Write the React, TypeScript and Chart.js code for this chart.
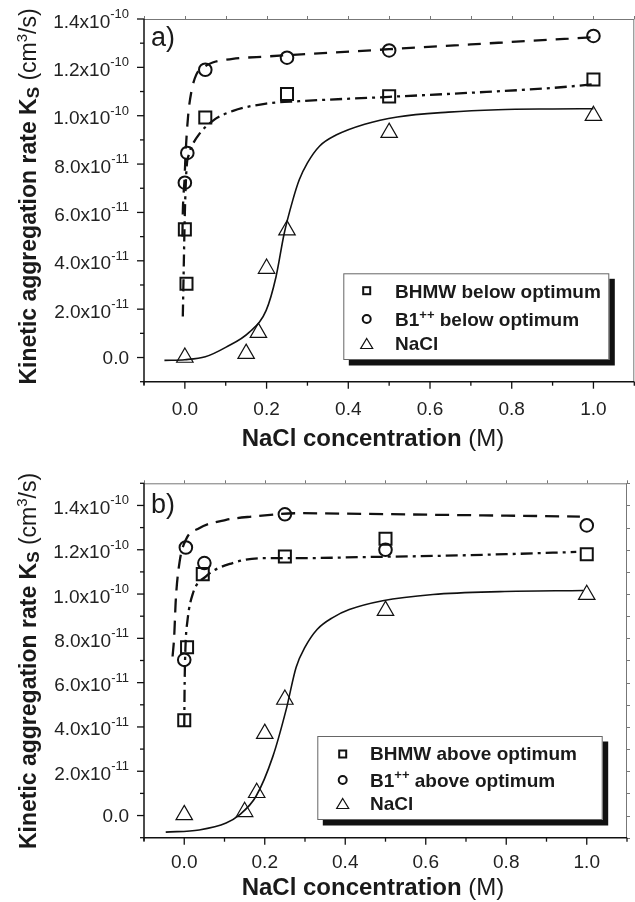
import React, { useEffect, useRef } from 'react';
import { Chart, registerables } from 'chart.js';
Chart.register(...registerables);

const FONT = '"Liberation Sans", Arial, Helvetica, sans-serif';

// ---------- axes ----------
const X_MIN = -0.1;
const X_MAX = 1.1;
const X_MAJOR = [0, 0.2, 0.4, 0.6, 0.8, 1.0];
const X_LABELS = ['0.0', '0.2', '0.4', '0.6', '0.8', '1.0'];
const X_MINOR = [-0.1, 0.1, 0.3, 0.5, 0.7, 0.9, 1.1];
const X_TOP = [-0.1, 0, 0.1, 0.2, 0.3, 0.4, 0.5, 0.6, 0.7, 0.8, 0.9, 1.0, 1.1];

const A_Y_MIN = -1e-11;
const A_Y_MAX = 1.4e-10;
const A_Y_MAJOR = [0, 2e-11, 4e-11, 6e-11, 8e-11, 1e-10, 1.2e-10, 1.4e-10];
const A_Y_LABELS = ['0.0', '2.0x10^{-11}', '4.0x10^{-11}', '6.0x10^{-11}', '8.0x10^{-11}', '1.0x10^{-10}', '1.2x10^{-10}', '1.4x10^{-10}'];
const A_Y_MINOR = [-1e-11, 1e-11, 3e-11, 5e-11, 7e-11, 9e-11, 1.1e-10, 1.3e-10];

const B_Y_MIN = -1e-11;
const B_Y_MAX = 1.5e-10;
const B_Y_MAJOR = [0, 2e-11, 4e-11, 6e-11, 8e-11, 1e-10, 1.2e-10, 1.4e-10];
const B_Y_LABELS = ['0.0', '2.0x10^{-11}', '4.0x10^{-11}', '6.0x10^{-11}', '8.0x10^{-11}', '1.0x10^{-10}', '1.2x10^{-10}', '1.4x10^{-10}'];
const B_Y_MINOR = [-1e-11, 1e-11, 3e-11, 5e-11, 7e-11, 9e-11, 1.1e-10, 1.3e-10, 1.5e-10];
const B_Y_RIGHT = [-1e-11, 0, 1e-11, 2e-11, 3e-11, 4e-11, 5e-11, 6e-11, 7e-11, 8e-11, 9e-11, 1e-10, 1.1e-10, 1.2e-10, 1.3e-10, 1.4e-10, 1.5e-10];

const X_TITLE = 'NaCl concentration';
const X_UNIT = ' (M)';
const Y_TITLE = 'Kinetic aggregation rate K';

// ---------- panel a (below optimum) ----------
const A_NAMES = ['BHMW below optimum', 'B1^{++} below optimum', 'NaCl'];
const A_BHMW_X = [0.004, 0.0, 0.05, 0.25, 0.5, 1.0];
const A_BHMW_Y = [3.05e-11, 5.3e-11, 9.93e-11, 1.09e-10, 1.08e-10, 1.15e-10];
const A_B1_X = [0.0, 0.006, 0.05, 0.25, 0.5, 1.0];
const A_B1_Y = [7.23e-11, 8.46e-11, 1.19e-10, 1.24e-10, 1.27e-10, 1.33e-10];
const A_NACL_X = [0.0, 0.15, 0.18, 0.2, 0.25, 0.5, 1.0];
const A_NACL_Y = [0.0, 0.16e-11, 1.03e-11, 3.68e-11, 5.27e-11, 9.3e-11, 1.0e-10];

const A_FIT_B1_X = [-0.006, -0.005, -0.003, -0.001, 0.002, 0.008, 0.016, 0.028, 0.05, 0.068, 0.117, 0.2, 0.3, 0.5, 0.7, 0.9, 1.0];
const A_FIT_B1_Y = [5.0e-11, 6.0e-11, 6.8e-11, 7.3e-11, 8.5e-11, 1.0e-10, 1.1e-10, 1.17e-10, 1.205e-10, 1.22e-10, 1.235e-10, 1.245e-10, 1.255e-10, 1.275e-10, 1.295e-10, 1.315e-10, 1.325e-10];
const A_FIT_BHMW_X = [-0.005, -0.003, 0.0, 0.004, 0.01, 0.016, 0.036, 0.069, 0.118, 0.199, 0.28, 0.5, 0.7, 0.9, 1.0];
const A_FIT_BHMW_Y = [1.7e-11, 3.5e-11, 6.0e-11, 7.8e-11, 8.4e-11, 8.7e-11, 9.26e-11, 9.8e-11, 1.02e-10, 1.05e-10, 1.06e-10, 1.078e-10, 1.095e-10, 1.115e-10, 1.13e-10];
const A_FIT_NACL_X = [-0.05, 0.0, 0.05, 0.101, 0.158, 0.199, 0.223, 0.243, 0.264, 0.28, 0.3, 0.33, 0.37, 0.44, 0.52, 0.645, 0.766, 0.9, 1.0];
const A_FIT_NACL_Y = [-1.2e-12, -0.9e-12, 0.3e-12, 4.3e-12, 1.05e-11, 1.95e-11, 3.33e-11, 5.12e-11, 6.5e-11, 7.35e-11, 8.05e-11, 8.75e-11, 9.2e-11, 9.65e-11, 9.95e-11, 1.015e-10, 1.025e-10, 1.028e-10, 1.029e-10];

// ---------- panel b (above optimum) ----------
const B_NAMES = ['BHMW above optimum', 'B1^{++} above optimum', 'NaCl'];
const B_BHMW_X = [0.0, 0.007, 0.046, 0.25, 0.5, 1.0];
const B_BHMW_Y = [4.3e-11, 7.6e-11, 1.09e-10, 1.17e-10, 1.25e-10, 1.18e-10];
const B_B1_X = [0.0, 0.004, 0.05, 0.25, 0.5, 1.0];
const B_B1_Y = [7.03e-11, 1.21e-10, 1.14e-10, 1.36e-10, 1.2e-10, 1.31e-10];
const B_NACL_X = [0.0, 0.15, 0.18, 0.2, 0.25, 0.5, 1.0];
const B_NACL_Y = [0.03e-11, 0.17e-11, 1.03e-11, 3.7e-11, 5.24e-11, 9.25e-11, 9.97e-11];

const B_FIT_B1_X = [-0.029, -0.025, -0.021, -0.012, 0.004, 0.037, 0.104, 0.17, 0.286, 0.45, 0.618, 0.8, 0.983];
const B_FIT_B1_Y = [7.18e-11, 8.08e-11, 9.74e-11, 1.14e-10, 1.245e-10, 1.297e-10, 1.335e-10, 1.35e-10, 1.365e-10, 1.362e-10, 1.358e-10, 1.354e-10, 1.35e-10];
const B_FIT_BHMW_X = [0.0, 0.001, 0.003, 0.008, 0.021, 0.054, 0.12, 0.195, 0.286, 0.45, 0.618, 0.8, 0.974];
const B_FIT_BHMW_Y = [4.0e-11, 6.0e-11, 7.6e-11, 8.8e-11, 1.0e-10, 1.08e-10, 1.14e-10, 1.162e-10, 1.162e-10, 1.167e-10, 1.172e-10, 1.18e-10, 1.19e-10];
const B_FIT_NACL_X = [-0.046, 0.037, 0.104, 0.137, 0.178, 0.22, 0.253, 0.278, 0.3, 0.33, 0.37, 0.41, 0.493, 0.618, 0.784, 0.991];
const B_FIT_NACL_Y = [-7.5e-12, -6.5e-12, -3.4e-12, 0.3e-12, 8.6e-12, 2.66e-11, 4.77e-11, 6.7e-11, 7.6e-11, 8.4e-11, 8.95e-11, 9.3e-11, 9.7e-11, 9.98e-11, 1.011e-10, 1.016e-10];

// ---------- helpers ----------
type Seg = { t: string; size: number; bold: boolean; dy: number };

const fontOf = (s: Seg) => `${s.bold ? 'bold ' : ''}${s.size}px ${FONT}`;

function rich(text: string, size: number, bold: boolean): Seg[] {
  const out: Seg[] = [];
  const re = /\^\{([^}]*)\}/g;
  let last = 0;
  let m: RegExpExecArray | null;
  while ((m = re.exec(text))) {
    if (m.index > last) out.push({ t: text.slice(last, m.index), size, bold, dy: 0 });
    out.push({ t: m[1], size: Math.round(size * 0.7), bold, dy: -size * 0.42 });
    last = m.index + m[0].length;
  }
  if (last < text.length) out.push({ t: text.slice(last), size, bold, dy: 0 });
  return out;
}

function segsWidth(ctx: CanvasRenderingContext2D, segs: Seg[]) {
  let w = 0;
  for (const s of segs) {
    ctx.font = fontOf(s);
    w += ctx.measureText(s.t).width;
  }
  return w;
}

function drawSegs(ctx: CanvasRenderingContext2D, segs: Seg[], x: number, y: number) {
  let cx = x;
  ctx.textAlign = 'left';
  ctx.textBaseline = 'alphabetic';
  for (const s of segs) {
    ctx.font = fontOf(s);
    ctx.fillText(s.t, cx, y + s.dy);
    cx += ctx.measureText(s.t).width;
  }
}

function line(ctx: CanvasRenderingContext2D, x1: number, y1: number, x2: number, y2: number) {
  ctx.beginPath();
  ctx.moveTo(x1, y1);
  ctx.lineTo(x2, y2);
  ctx.stroke();
}

function legendMarker(ctx: CanvasRenderingContext2D, style: string, x: number, y: number) {
  ctx.save();
  ctx.strokeStyle = '#111';
  if (style === 'rect') {
    ctx.lineWidth = 2;
    ctx.strokeRect(x - 3.5, y - 3.5, 7, 7);
  } else if (style === 'circle') {
    ctx.lineWidth = 2;
    ctx.beginPath();
    ctx.arc(x, y, 4, 0, Math.PI * 2);
    ctx.stroke();
  } else {
    ctx.lineWidth = 1.2;
    ctx.beginPath();
    ctx.moveTo(x, y - 5.5);
    ctx.lineTo(x + 6, y + 4.5);
    ctx.lineTo(x - 6, y + 4.5);
    ctx.closePath();
    ctx.stroke();
  }
  ctx.restore();
}

type Cfg = {
  yMajor: number[];
  yLabels: string[];
  yMinor: number[];
  yRight: number[];
  xLabelOffset: number;
  yTitleY: number;
  xTitleBase: number;
  panel: string;
  panelY: number;
  names: string[];
  box: { x: number; y: number; w: number; h: number };
  markerX: number;
  textX: number;
  markerY: number[];
  textBase: number[];
};

function decor(cfg: Cfg) {
  return {
    id: 'decor',
    afterDatasetsDraw(chart: any) {
      const ctx: CanvasRenderingContext2D = chart.ctx;
      const ca = chart.chartArea;
      const xs = chart.scales.x;
      const ys = chart.scales.y;
      ctx.save();

      // thin top / right frame
      ctx.strokeStyle = '#777';
      ctx.lineWidth = 1;
      line(ctx, ca.left, ca.top + 0.5, ca.right, ca.top + 0.5);
      line(ctx, ca.right - 0.5, ca.top, ca.right - 0.5, ca.bottom);
      for (const v of X_TOP) {
        const px = Math.round(xs.getPixelForValue(v)) + 0.5;
        line(ctx, px, ca.top - 3, px, ca.top);
      }
      for (const v of cfg.yRight) {
        const py = Math.round(ys.getPixelForValue(v)) + 0.5;
        line(ctx, ca.right, py, ca.right + 3, py);
      }

      // left & bottom axes
      ctx.strokeStyle = '#111';
      ctx.lineWidth = 1.5;
      line(ctx, ca.left, ca.top, ca.left, ca.bottom + 3);
      line(ctx, ca.left, ca.bottom, ca.right, ca.bottom);
      ctx.lineWidth = 1.3;
      for (const v of cfg.yMajor) {
        const py = ys.getPixelForValue(v);
        line(ctx, ca.left - 7, py, ca.left, py);
      }
      for (const v of cfg.yMinor) {
        const py = ys.getPixelForValue(v);
        line(ctx, ca.left - 4, py, ca.left, py);
      }
      for (const v of X_MAJOR) {
        const px = xs.getPixelForValue(v);
        line(ctx, px, ca.bottom, px, ca.bottom + 7);
      }
      for (const v of X_MINOR) {
        const px = xs.getPixelForValue(v);
        line(ctx, px, ca.bottom, px, ca.bottom + 4);
      }

      // tick labels
      ctx.fillStyle = '#222';
      cfg.yMajor.forEach((v, i) => {
        const py = ys.getPixelForValue(v);
        const segs = rich(cfg.yLabels[i], 19, false).map((s) => (s.dy === 0 ? s : { ...s, size: 13, dy: -9.5 }));
        const hasSup = segs.length > 1;
        const w = segsWidth(ctx, segs);
        drawSegs(ctx, segs, ca.left - 15 - w, py + (hasSup ? 8.5 : 6.8));
      });
      ctx.font = `19px ${FONT}`;
      ctx.textAlign = 'center';
      ctx.textBaseline = 'alphabetic';
      X_MAJOR.forEach((v, i) => {
        const px = xs.getPixelForValue(v);
        ctx.fillText(X_LABELS[i], px, ca.bottom + cfg.xLabelOffset + 6.8);
      });

      // axis titles
      ctx.fillStyle = '#1a1a1a';
      const xt: Seg[] = [
        { t: X_TITLE, size: 24, bold: true, dy: 0 },
        { t: X_UNIT, size: 24, bold: false, dy: 0 },
      ];
      const xw = segsWidth(ctx, xt);
      drawSegs(ctx, xt, 373 - xw / 2, cfg.xTitleBase);

      const yt: Seg[] = [
        { t: Y_TITLE, size: 23, bold: true, dy: 0 },
        { t: 'S', size: 17, bold: true, dy: 3 },
        { t: ' (cm', size: 23, bold: false, dy: 0 },
        { t: '3', size: 15, bold: false, dy: -9 },
        { t: '/s)', size: 23, bold: false, dy: 0 },
      ];
      const yw = segsWidth(ctx, yt);
      ctx.save();
      ctx.translate(36, cfg.yTitleY);
      ctx.rotate(-Math.PI / 2);
      drawSegs(ctx, yt, -yw / 2, 0);
      ctx.restore();

      // panel label
      ctx.font = `27px ${FONT}`;
      ctx.textAlign = 'left';
      ctx.fillStyle = '#1a1a1a';
      ctx.fillText(cfg.panel, 151, cfg.panelY);

      // legend
      const b = cfg.box;
      ctx.fillStyle = '#111';
      ctx.fillRect(b.x + 5.5, b.y + 5.5, b.w, b.h);
      ctx.fillStyle = '#fff';
      ctx.fillRect(b.x, b.y, b.w, b.h);
      ctx.strokeStyle = '#666';
      ctx.lineWidth = 1;
      ctx.strokeRect(b.x + 0.5, b.y + 0.5, b.w - 1, b.h - 1);
      const styles = ['rect', 'circle', 'triangle'];
      ctx.fillStyle = '#1a1a1a';
      cfg.names.forEach((n, i) => {
        legendMarker(ctx, styles[i], cfg.markerX, cfg.markerY[i]);
        const segs = rich(n, 19, true).map((s) => (s.dy === 0 ? s : { ...s, size: 13, dy: -7.5 }));
        ctx.fillStyle = '#1a1a1a';
        drawSegs(ctx, segs, cfg.textX, cfg.textBase[i]);
      });

      ctx.restore();
    },
  };
}

const pts = (xs: number[], ys: number[]) => xs.map((x, i) => ({ x, y: ys[i] }));

function fitSet(xs: number[], ys: number[], dash: number[], width: number) {
  return {
    type: 'scatter',
    data: pts(xs, ys),
    showLine: true,
    borderColor: '#111',
    borderWidth: width,
    borderDash: dash,
    cubicInterpolationMode: 'monotone',
    pointRadius: 0,
    pointHoverRadius: 0,
    fill: false,
  };
}

function markSet(xs: number[], ys: number[], style: string, radius: number, width: number) {
  return {
    type: 'scatter',
    data: pts(xs, ys),
    showLine: false,
    pointStyle: style,
    pointRadius: radius,
    pointHoverRadius: radius,
    pointBorderColor: '#111',
    pointBackgroundColor: 'rgba(0,0,0,0)',
    pointBorderWidth: width,
    clip: false,
  };
}

function buildChart(
  canvas: HTMLCanvasElement,
  datasets: any[],
  yMin: number,
  yMax: number,
  padding: any,
  cfg: Cfg
) {
  return new Chart(canvas, {
    type: 'scatter',
    data: { datasets },
    options: {
      animation: false,
      responsive: false,
      devicePixelRatio: 1,
      events: [],
      layout: { padding },
      plugins: { legend: { display: false }, tooltip: { enabled: false } },
      scales: {
        x: { type: 'linear', min: X_MIN, max: X_MAX, display: false },
        y: { type: 'linear', min: yMin, max: yMax, display: false },
      },
    } as any,
    plugins: [decor(cfg) as any],
  } as any);
}

export default function App() {
  const refA = useRef<HTMLCanvasElement>(null);
  const refB = useRef<HTMLCanvasElement>(null);

  useEffect(() => {
    const chartA = buildChart(
      refA.current!,
      [
        markSet(A_BHMW_X, A_BHMW_Y, 'rect', 8.5, 2),
        markSet(A_B1_X, A_B1_Y, 'circle', 6.3, 2),
        markSet(A_NACL_X, A_NACL_Y, 'triangle', 9.5, 1.2),
        fitSet(A_FIT_B1_X, A_FIT_B1_Y, [13, 9], 2.3),
        fitSet(A_FIT_BHMW_X, A_FIT_BHMW_Y, [12, 5, 3, 5], 2.3),
        fitSet(A_FIT_NACL_X, A_FIT_NACL_Y, [], 1.6),
      ],
      A_Y_MIN,
      A_Y_MAX,
      { left: 144, top: 19, right: 8, bottom: 69.3 },
      {
        yMajor: A_Y_MAJOR,
        yLabels: A_Y_LABELS,
        yMinor: A_Y_MINOR,
        yRight: [],
        xLabelOffset: 26.3,
        yTitleY: 196.5,
        xTitleBase: 446,
        panel: 'a)',
        panelY: 46,
        names: A_NAMES,
        box: { x: 343.3, y: 273.3, w: 266, h: 86.7 },
        markerX: 366.7,
        textX: 395,
        markerY: [290.7, 319, 344],
        textBase: [298.3, 326, 350],
      }
    );
    const chartB = buildChart(
      refB.current!,
      [
        markSet(B_BHMW_X, B_BHMW_Y, 'rect', 8.5, 2),
        markSet(B_B1_X, B_B1_Y, 'circle', 6.3, 2),
        markSet(B_NACL_X, B_NACL_Y, 'triangle', 9.5, 1.2),
        fitSet(B_FIT_B1_X, B_FIT_B1_Y, [14, 8], 2.3),
        fitSet(B_FIT_BHMW_X, B_FIT_BHMW_Y, [12, 5, 3, 5], 2.3),
        fitSet(B_FIT_NACL_X, B_FIT_NACL_Y, [], 1.6),
      ],
      B_Y_MIN,
      B_Y_MAX,
      { left: 144, top: 32.3, right: 18, bottom: 64.3 },
      {
        yMajor: B_Y_MAJOR,
        yLabels: B_Y_LABELS,
        yMinor: B_Y_MINOR,
        yRight: B_Y_RIGHT,
        xLabelOffset: 23.2,
        yTitleY: 210,
        xTitleBase: 444,
        panel: 'b)',
        panelY: 62,
        names: B_NAMES,
        box: { x: 317.3, y: 285, w: 285.4, h: 84 },
        markerX: 342.7,
        textX: 370,
        markerY: [303, 329, 353],
        textBase: [309, 335.7, 359],
      }
    );
    return () => {
      chartA.destroy();
      chartB.destroy();
    };
  }, []);

  return (
    <div
      style={{
        position: 'absolute',
        left: 0,
        top: 0,
        width: 635,
        height: 902,
        overflow: 'hidden',
        background: '#fff',
      }}
    >
      <canvas
        ref={refA}
        width={645}
        height={451}
        style={{ position: 'absolute', left: 0, top: 0, width: 645, height: 451 }}
      />
      <canvas
        ref={refB}
        width={645}
        height={451}
        style={{ position: 'absolute', left: 0, top: 451, width: 645, height: 451 }}
      />
    </div>
  );
}
